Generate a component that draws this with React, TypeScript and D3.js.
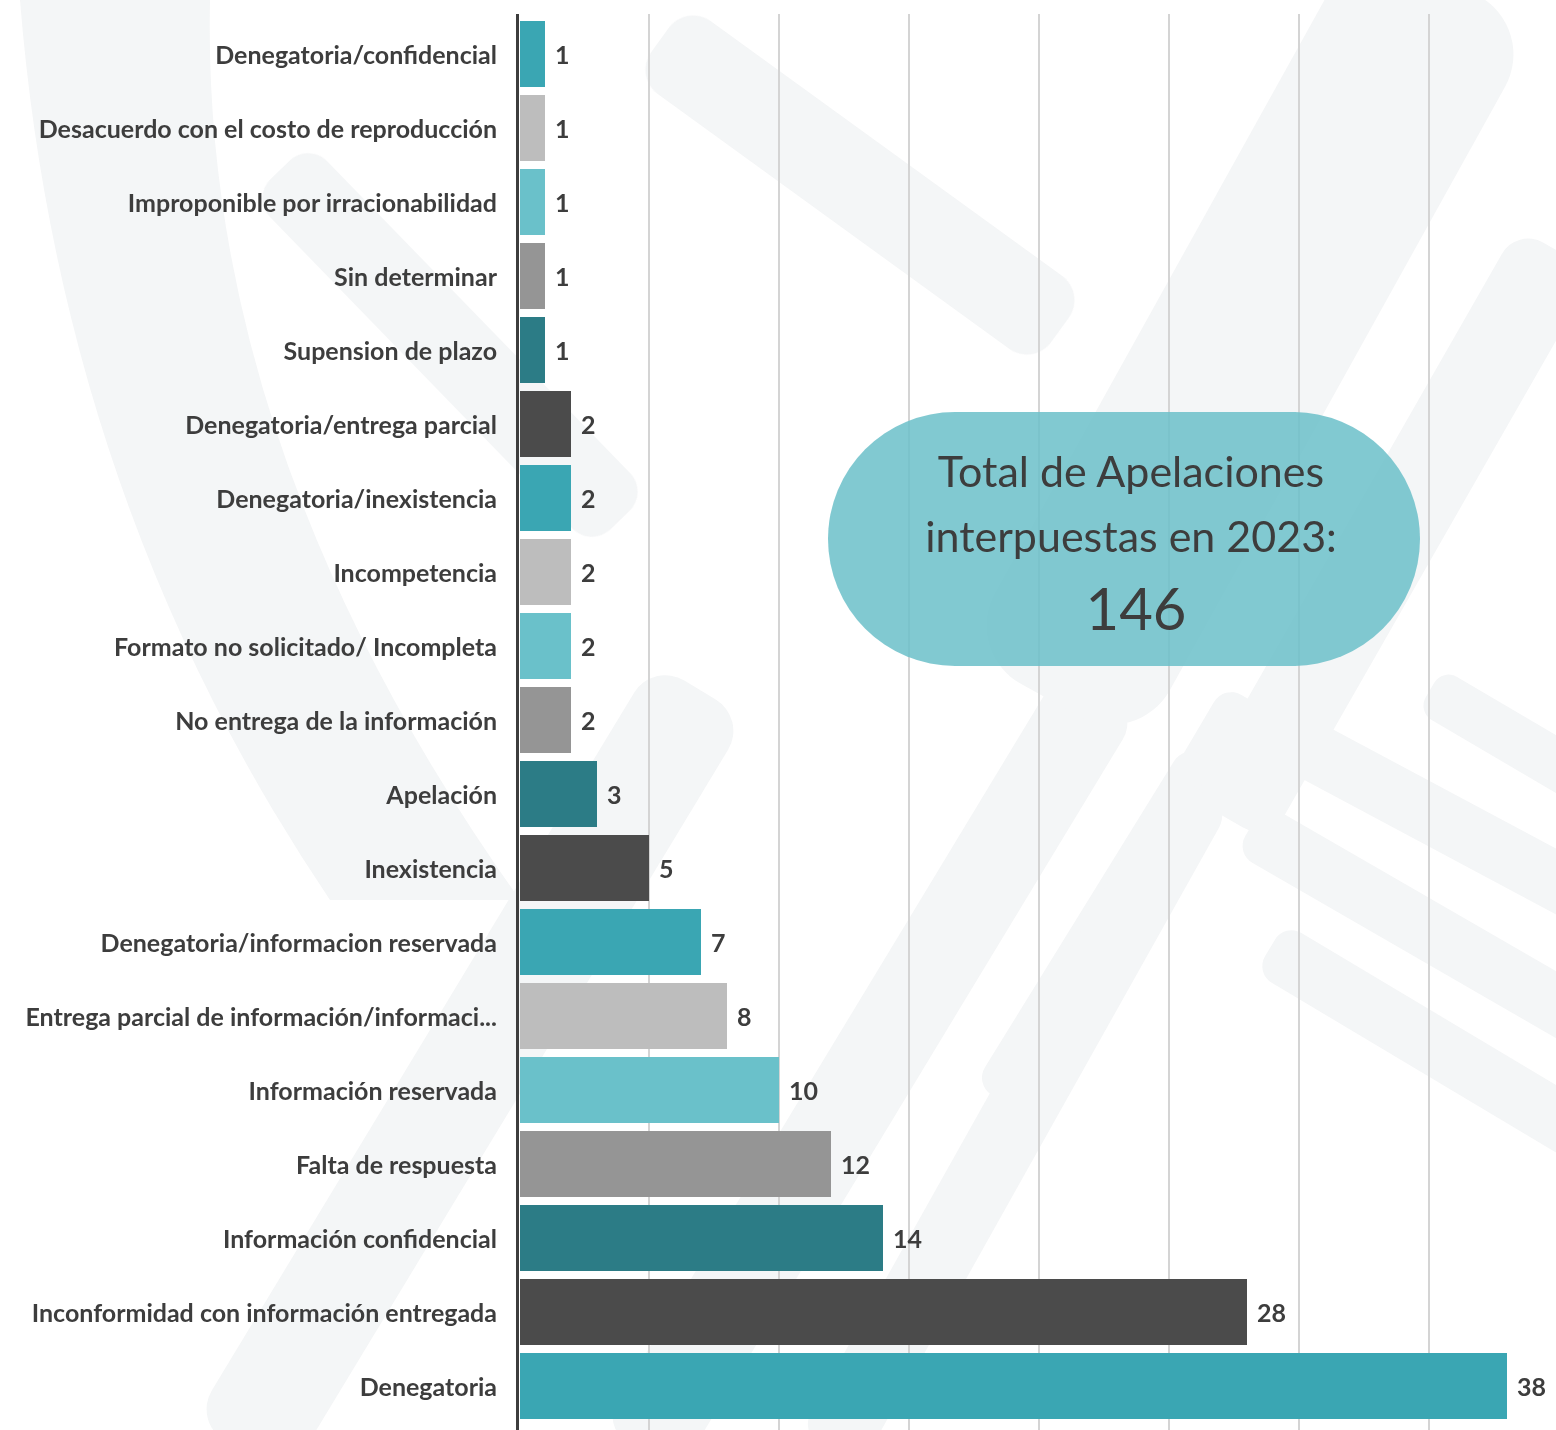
import React from "react";
import * as d3 from "d3";

const categories = [
  "Denegatoria/confidencial",
  "Desacuerdo con el costo de reproducción",
  "Improponible por irracionabilidad",
  "Sin determinar",
  "Supension de plazo",
  "Denegatoria/entrega parcial",
  "Denegatoria/inexistencia",
  "Incompetencia",
  "Formato no solicitado/ Incompleta",
  "No entrega de la información",
  "Apelación",
  "Inexistencia",
  "Denegatoria/informacion reservada",
  "Entrega parcial de información/informaci...",
  "Información reservada",
  "Falta de respuesta",
  "Información confidencial",
  "Inconformidad con información entregada",
  "Denegatoria",
];
const values = [1, 1, 1, 1, 1, 2, 2, 2, 2, 2, 3, 5, 7, 8, 10, 12, 14, 28, 38];
const palette = ["#3aa6b3", "#bdbdbd", "#6ac1ca", "#959595", "#2c7c86", "#4b4b4b"];
const gridTicks = [5, 10, 15, 20, 25, 30, 35];
const calloutLines = ["Total de Apelaciones", "interpuestas en 2023:"];
const calloutTotal = "146";

// decorative background stripes: [x1, y1, x2, y2, width]
const stripes: [number, number, number, number, number][] = [
  [1250, 718, 1600, 905, 58],
  [1250, 828, 1600, 1030, 58],
  [1270, 948, 1600, 1145, 58],
  [1430, 690, 1600, 790, 50],
  [1120, 920, 1250, 700, 60],
  [1000, 1100, 1210, 760, 60],
  [1100, 690, 640, 1450, 90],
  [700, 690, 240, 1450, 110],
  [1200, 790, 830, 1450, 70],
  [1450, -20, 1050, 700, 200],
  [1556, 250, 1230, 820, 90],
  [660, 40, 1060, 330, 90],
  [280, 170, 620, 520, 80],
];

export default function App() {
  const W = 1556;
  const H = 1430;
  const x = d3.scaleLinear().domain([0, 40]).range([519, 1559]);
  const p = 8 / 74;
  const y = d3
    .scaleBand<string>()
    .domain(categories)
    .range([17, 17 + 19 * 74])
    .paddingInner(p)
    .paddingOuter(p / 2);
  const color = (i: number) => palette[i % palette.length];
  const font = "Lato, 'Open Sans', sans-serif";
  const bigArc = d3.path();
  bigArc.moveTo(20, 0);
  bigArc.quadraticCurveTo(60, 500, 330, 900);
  bigArc.lineTo(520, 900);
  bigArc.quadraticCurveTo(200, 450, 210, 0);
  bigArc.closePath();

  return (
    <svg width={W} height={H} style={{ display: "block", position: "absolute", left: 0, top: 0, background: "#ffffff" }}>
      <rect x={0} y={0} width={W} height={H} fill="#ffffff" />
      <g fill="#e9ecee" opacity={0.5}>
        <path d={bigArc.toString()} />
        {stripes.map(([x1, y1, x2, y2, w], i) => {
          const len = Math.hypot(x2 - x1, y2 - y1);
          const ang = (Math.atan2(y2 - y1, x2 - x1) * 180) / Math.PI;
          return (
            <rect
              key={i}
              x={0}
              y={-w / 2}
              width={len}
              height={w}
              rx={w / 3}
              transform={`translate(${x1},${y1}) rotate(${ang})`}
            />
          );
        })}
      </g>
      <g>
        {gridTicks.map((t) => (
          <line key={t} x1={x(t)} x2={x(t)} y1={14} y2={H} stroke="#d4d4d4" strokeWidth={2} />
        ))}
      </g>
      <g>
        {categories.map((c, i) => (
          <rect
            key={c}
            x={x(0) + 1}
            y={y(c)!}
            width={x(values[i]) - x(0) - 1}
            height={y.bandwidth()}
            fill={color(i)}
          />
        ))}
      </g>
      <line x1={517.5} x2={517.5} y1={14} y2={H} stroke="#3d3d3d" strokeWidth={3} />
      <g fontFamily={font} fontSize={25} fontWeight={700} fill="#3d3d3d">
        {categories.map((c) => (
          <text key={c} x={497} y={y(c)! + y.bandwidth() / 2 + 1} dy="0.35em" textAnchor="end">
            {c}
          </text>
        ))}
        {categories.map((c, i) => (
          <text key={c + "v"} x={x(values[i]) + 10} y={y(c)! + y.bandwidth() / 2 + 1} dy="0.35em" textAnchor="start">
            {values[i]}
          </text>
        ))}
      </g>
      <g>
        <rect x={828} y={412} width={592} height={254} rx={127} fill="#6bbfc9" opacity={0.85} />
        <g fontFamily={font} fill="#3d3d3d" textAnchor="middle">
          <text x={1131} y={487} fontSize={43}>{calloutLines[0]}</text>
          <text x={1131} y={552} fontSize={43}>{calloutLines[1]}</text>
          <text x={1136} y={630} fontSize={58}>{calloutTotal}</text>
        </g>
      </g>
    </svg>
  );
}
